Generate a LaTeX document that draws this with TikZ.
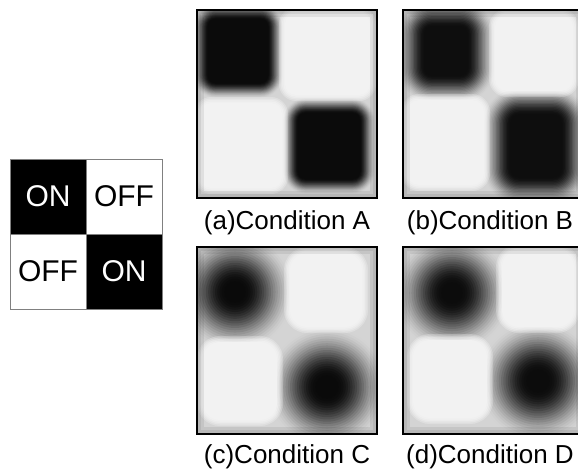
\documentclass[tikz,border=0pt]{standalone}
\usepackage{fontspec}
\setmainfont{Liberation Sans}
\definecolor{lightsq}{gray}{0.95}
\definecolor{panelbg}{gray}{0.83}
% dark blurred blob: cx cy hx hy spread layers maxdark roundratio
\newcommand{\dkblob}[8]{%
  \foreach \k in {1,...,#6}{%
    \pgfmathsetmacro{\uu}{\k/#6}%
    \pgfmathsetmacro{\up}{(\k-1)/#6}%
    \pgfmathsetmacro{\tk}{#7*(3*\uu*\uu-2*\uu*\uu*\uu)}%
    \pgfmathsetmacro{\tp}{#7*(3*\up*\up-2*\up*\up*\up)}%
    \pgfmathsetmacro{\op}{(\tk-\tp)/(1-\tp)}%
    \pgfmathsetmacro{\ee}{#5*(#6-\k)/#6}%
    \pgfmathsetmacro{\rr}{#8*min(#3,#4)+\ee}%
    \fill[black, fill opacity=\op, rounded corners=\rr pt]
      ({#1-#3-\ee},{#2-#4-\ee}) rectangle ({#1+#3+\ee},{#2+#4+\ee});
  }}
% light rounded square with soft edge: x1 y1 x2 y2 radius
\newcommand{\ltsq}[5]{%
  \foreach \k in {4,3,2,1}{%
    \pgfmathsetmacro{\ee}{1.5*\k}%
    \pgfmathsetmacro{\rr}{#5+\ee}%
    \fill[white, fill opacity=0.25, rounded corners=\rr pt]
      ({#1-\ee},{#2-\ee}) rectangle ({#3+\ee},{#4+\ee});
  }%
  \fill[lightsq, rounded corners=#5pt] (#1,#2) rectangle (#3,#4);}
\tikzset{
  panelborder/.style={draw=black, line width=2.5pt},
  vignette/.style={draw=black, draw opacity=0.07},
  caplabel/.style={anchor=base, font=\fontsize{26}{30}\selectfont, inner sep=0pt},
  oncell/.style={draw=gray, line width=0.8pt, fill=black, text=white, minimum width=76pt, minimum height=75pt, inner sep=0pt, font=\fontsize{30}{34}\selectfont},
  offcell/.style={draw=gray, line width=0.8pt, fill=white, text=black, minimum width=76pt, minimum height=75pt, inner sep=0pt, font=\fontsize{30}{34}\selectfont}
}
\begin{document}
\begin{tikzpicture}[x=1pt, y=-1pt]
\useasboundingbox (0,0) rectangle (578,474);
\clip (0,0) rectangle (578,474);
\fill[white] (0,0) rectangle (578,474);

% switch pattern
\node[oncell]  (s11) at (48,196.5)  {ON};
\node[offcell] (s12) at (124,196.5) {OFF};
\node[offcell] (s21) at (48,271.5)  {OFF};
\node[oncell]  (s22) at (124,271.5) {ON};

% ---- panel A ----
\begin{scope}
  \clip (197,10) rectangle (377,198);
  \fill[panelbg] (197,10) rectangle (377,198);
  \dkblob{238}{51}{30}{32}{16}{18}{0.94}{0.25}
  \dkblob{329}{146}{31}{33}{16}{18}{0.94}{0.25}
  \ltsq{285}{13}{370}{95}{11}
  \ltsq{200}{103}{282}{188}{11}
  \draw[vignette, line width=14pt] (197,10) rectangle (377,198);
  \draw[vignette, line width=8pt] (197,10) rectangle (377,198);
\end{scope}
\draw[panelborder] (197,10) rectangle (377,198);
\node[caplabel] (la) at (287,229) {(a)Condition A};

% ---- panel B ----
\begin{scope}
  \clip (403,10) rectangle (583,198);
  \fill[panelbg] (403,10) rectangle (583,198);
  \dkblob{446}{51}{22}{25}{28}{20}{0.92}{0.35}
  \dkblob{536}{146}{26}{32}{28}{20}{0.92}{0.35}
  \ltsq{495}{15}{573}{91}{12}
  \ltsq{407}{100}{484}{185}{12}
  \draw[vignette, line width=14pt] (403,10) rectangle (583,198);
  \draw[vignette, line width=8pt] (403,10) rectangle (583,198);
\end{scope}
\draw[panelborder] (403,10) rectangle (583,198);
\node[caplabel] (lb) at (490,229) {(b)Condition B};

% ---- panel C ----
\begin{scope}
  \clip (197,247) rectangle (377,434);
  \fill[panelbg] (197,247) rectangle (377,434);
  \dkblob{235}{292}{11}{11}{50}{22}{0.94}{1}
  \dkblob{327}{387}{12}{12}{50}{22}{0.94}{1}
  \ltsq{290}{253}{362}{327}{17}
  \ltsq{203}{342}{277}{420}{17}
  \draw[vignette, line width=14pt] (197,247) rectangle (377,434);
  \draw[vignette, line width=8pt] (197,247) rectangle (377,434);
\end{scope}
\draw[panelborder] (197,247) rectangle (377,434);
\node[caplabel] (lc) at (287,463) {(c)Condition C};

% ---- panel D ----
\begin{scope}
  \clip (403,247) rectangle (583,434);
  \fill[panelbg] (403,247) rectangle (583,434);
  \dkblob{452}{293}{11}{11}{50}{22}{0.93}{1}
  \dkblob{538}{381}{12}{12}{50}{22}{0.93}{1}
  \ltsq{502}{250}{574}{327}{17}
  \ltsq{413}{340}{487}{418}{17}
  \draw[vignette, line width=14pt] (403,247) rectangle (583,434);
  \draw[vignette, line width=8pt] (403,247) rectangle (583,434);
\end{scope}
\draw[panelborder] (403,247) rectangle (583,434);
\node[caplabel] (ld) at (490,463) {(d)Condition D};
\end{tikzpicture}
\end{document}
